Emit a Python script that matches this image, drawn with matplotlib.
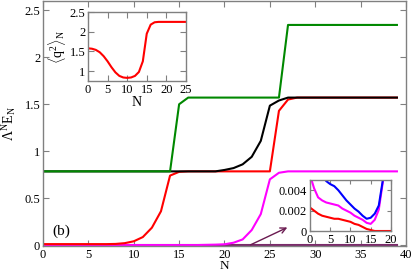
import numpy as np
import matplotlib
matplotlib.use("Agg")
import matplotlib.pyplot as plt

plt.rcParams['font.family'] = ['Liberation Serif', 'DejaVu Serif']
plt.rcParams['mathtext.fontset'] = 'custom'
plt.rcParams['mathtext.rm'] = 'Liberation Serif'
plt.rcParams['mathtext.it'] = 'Liberation Serif'

# main panel data, N = 0..39
N = np.arange(40)
green = [0.785] * 15 + [1.50] + [1.571] * 11 + [2.345] * 13
black = [0.785] * 20 + [0.80, 0.82, 0.86, 0.94, 1.11, 1.485, 1.54] + [1.571] * 13
red = [0.01] * 8 + [0.012, 0.02, 0.04, 0.085, 0.185, 0.36, 0.74, 0.78] + [0.785] * 10 \
    + [1.43, 1.55] + [1.571] * 12
magenta = [0.0] * 18 + [0.002, 0.004, 0.008, 0.025, 0.06, 0.16, 0.33, 0.70, 0.77] + [0.785] * 13
purple = [0.0] * 40

# inset 1: <q^2>_N
N1 = np.arange(26)
q2 = [1.58, 1.57, 1.54, 1.48, 1.38, 1.25, 1.10, 0.97, 0.88, 0.84, 0.83, 0.84, 0.88,
      0.98, 1.25, 1.95, 2.18, 2.24, 2.25, 2.25, 2.25, 2.25, 2.25, 2.25, 2.25, 2.25]

# inset 2: zoom near zero
N2 = np.arange(21)
blue2 = [0.0080, 0.0070, 0.0062, 0.0055, 0.0049, 0.0046, 0.0044, 0.0040, 0.0035, 0.0030,
         0.0026, 0.0022, 0.0019, 0.0015, 0.0012, 0.0013, 0.0017, 0.0025, 0.0050, 0.009, 0.014]
mag2 = [0.0055, 0.0042, 0.0033, 0.0030, 0.0028, 0.0027, 0.0026, 0.0025, 0.0022, 0.0020,
        0.0018, 0.0015, 0.0013, 0.0011, 0.0008, 0.0007, 0.0011, 0.0021, 0.0048, 0.009, 0.014]
red2 = [0.0023, 0.0020, 0.0017, 0.0015, 0.0014, 0.0013, 0.0012, 0.0012, 0.0011, 0.0010,
        0.0009, 0.0007, 0.0006, 0.0004, 0.0002, 0.0001, 0.0, 0.0, 0.0, 0.0, 0.0]

frame = '#808080'


def style(ax):
    for s in ax.spines.values():
        s.set_color(frame)
        s.set_linewidth(1.0)
    ax.tick_params(direction='in', top=True, right=True, labelsize=9,
                   color=frame, length=4, pad=2)


fig = plt.figure(figsize=(4.15, 2.71), dpi=100)
ax = fig.add_axes([0.1036, 0.0923, 0.8747, 0.904])
ax.plot(N, purple, color='#7a2a6a', lw=1.5)
ax.plot(N, magenta, color='#ff00ff', lw=1.5)
ax.plot(N, red, color='#ff0000', lw=1.5)
ax.plot(N, black, color='#000000', lw=1.5)
ax.plot(N, green, color='#008800', lw=1.5)
ax.set_xlim(0, 40)
ax.set_ylim(-0.01, 2.6)
ax.set_xticks(np.arange(0, 41, 5))
ax.set_yticks([0, 0.5, 1, 1.5, 2, 2.5])
ax.set_yticklabels(['0', '0.5', '1', '1.5', '2', '2.5'])
ax.set_xlabel('N', fontsize=9.5)
ax.xaxis.set_label_coords(0.5, -0.057)
ax.set_ylabel(r'$\mathrm{\Lambda^N E_N}$', fontsize=10)
ax.yaxis.set_label_coords(-0.07, 0.5)
style(ax)
ax.text(1.0, 0.11, '(b)', fontsize=11)
ax.annotate('', xy=(27.2, 0.2), xytext=(22.6, -0.01),
            arrowprops=dict(arrowstyle='->', color='#6a1a50', lw=1.0))

a1 = fig.add_axes([0.212, 0.701, 0.236, 0.2546])
a1.plot(N1, q2, color='#ff0000', lw=1.5)
a1.set_xlim(0, 25)
a1.set_ylim(0.75, 2.5)
a1.set_xticks(np.arange(0, 26, 5))
a1.set_yticks([1, 1.5, 2, 2.5])
a1.set_yticklabels(['1', '1.5', '2', '2.5'])
a1.set_xlabel('N', fontsize=10, labelpad=0)
a1.set_ylabel(r'$\mathrm{\langle q^2\rangle_N}$', fontsize=10, labelpad=1)
style(a1)

a2 = fig.add_axes([0.747, 0.1476, 0.195, 0.188])
a2.plot(N2, red2, color='#ff0000', lw=1.5)
a2.plot(N2, mag2, color='#ff00ff', lw=1.5)
a2.plot(N2, blue2, color='#0000ff', lw=1.5)
a2.set_xlim(0, 20)
a2.set_ylim(0, 0.005)
a2.set_xticks(np.arange(0, 21, 5))
a2.set_yticks([0, 0.002, 0.004])
a2.set_yticklabels(['0', '0.002', '0.004'])
style(a2)
a2.tick_params(length=3)

fig.savefig('out.png', dpi=100)
